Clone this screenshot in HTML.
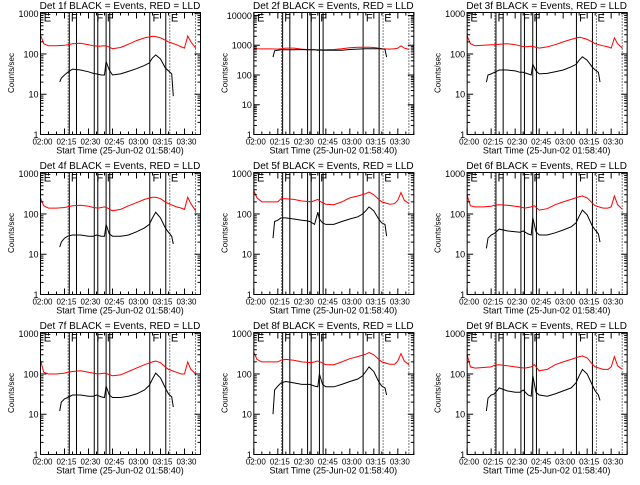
<!DOCTYPE html>
<html><head><meta charset="utf-8">
<style>
html,body{margin:0;padding:0;background:#fff;}
svg text{font-family:"Liberation Sans",sans-serif;fill:#000;}
</style></head>
<body>
<svg id="chart" xmlns="http://www.w3.org/2000/svg" width="640" height="480" viewBox="0 0 640 480"></svg>
<script>
const redTimes = [0,2,5,10,15,17,20,25,30,33,36,40,42,45,50,55,60,65,70,72,75,78,80,85,88,90,92,94,97];
const blackTimes = [12,13,15,17,20,25,30,33,35,38,40,41,43,45,50,55,60,65,68,70,72,75,78,80,82,83];
const detNames = ["1f","2f","3f","4f","5f","6f","7f","8f","9f"];
const yMaxLog = [3.03,4.1,3.03,3.03,3.03,3.03,3.03,3.03,3.03];
const red1 = [300,180,160,160,165,170,180,185,170,160,155,160,155,135,145,175,215,250,275,270,250,220,200,170,150,140,280,200,140];
const black1 = [20,25,30,35,42,40,36,33,32,30,30,65,40,30,32,37,43,52,60,80,95,75,45,38,32,9];
const red2 = [780,760,750,750,740,760,800,800,740,720,700,700,700,700,720,760,820,850,850,850,840,800,760,740,760,800,950,800,720];
const black2 = [400,650,680,700,700,700,720,700,700,700,680,690,680,680,680,680,720,740,750,760,760,760,760,750,730,400];
const red3 = [280,180,160,165,170,170,175,180,170,160,150,155,150,140,150,170,200,230,260,250,230,200,180,160,150,140,250,180,140];
const black3 = [20,30,32,35,40,40,38,35,35,32,30,55,38,32,33,36,40,48,55,70,85,70,48,40,35,20];
const red4 = [250,160,140,140,145,150,160,165,155,145,140,150,140,120,130,160,190,230,260,260,240,200,180,150,140,130,260,180,120];
const black4 = [15,20,25,28,30,30,28,28,30,28,28,55,32,28,28,30,36,45,55,80,110,80,45,35,28,18];
const red5 = [380,250,200,200,200,240,240,230,210,205,200,230,200,175,170,200,250,280,320,350,300,230,200,175,180,220,340,220,180];
const black5 = [25,65,70,80,80,75,70,68,65,55,110,75,60,55,55,65,75,85,100,120,150,120,75,60,55,28];
const red6 = [290,160,150,150,155,165,170,165,155,150,140,150,160,125,135,170,200,230,270,280,250,190,160,140,140,150,280,170,130];
const black6 = [14,25,30,33,42,38,36,35,38,32,30,80,36,30,30,34,40,48,60,88,125,95,52,40,32,20];
const red7 = [220,110,100,100,105,110,115,120,110,105,100,105,100,90,95,115,140,170,200,210,190,150,130,110,100,100,200,130,100];
const black7 = [12,20,24,26,30,30,28,28,30,27,26,50,30,26,26,28,32,40,52,75,105,80,45,32,27,15];
const red8 = [350,230,200,200,200,220,230,220,200,195,190,210,195,170,170,200,240,270,310,340,300,230,200,175,175,210,320,210,170];
const black8 = [10,40,50,60,65,60,55,55,55,50,48,100,55,48,48,55,65,75,90,115,150,115,65,50,45,30];
const red9 = [300,150,140,145,150,165,170,160,150,145,140,150,170,120,130,170,200,230,270,280,250,180,150,130,130,150,270,160,130];
const black9 = [12,25,30,32,45,38,35,35,40,30,28,90,35,30,28,32,38,45,60,90,130,100,55,38,30,22];
const redSeries = [red1,red2,red3,red4,red5,red6,red7,red8,red9];
const blackSeries = [black1,black2,black3,black4,black5,black6,black7,black8,black9];
const solidEvents = [18,22.5,33.6,35.8,41,43.3,68.3,78.3];
const dottedEvents = [17.3,80.8,96.9];
const eventLabels = ["E","F","F","F","F","E"];
const eventLabelTimes = [2,19,35,41.5,70,81.5];
const xTickLabels = ["02:00","02:15","02:30","02:45","03:00","03:15","03:30"];
const xTickMins = [0,15,30,45,60,75,90];

const svg = document.getElementById('chart');
const NS = 'http://www.w3.org/2000/svg';
function mk(tag, attrs, parent){
  const e = document.createElementNS(NS, tag);
  for (const k in attrs) e.setAttribute(k, attrs[k]);
  parent.appendChild(e);
  return e;
}
for (let p = 0; p < 9; p++) {
  const col = p % 3, row = Math.floor(p / 3);
  const ox = col * 213.33, oy = row * 160;
  const x0 = ox + 40.5, x1 = ox + 200.5, y0 = oy + 12.5, y1 = oy + 134.5;
  const xs = m => x0 + m * (x1 - x0) / 100;
  const ys = v => y1 - Math.log10(v) / yMaxLog[p] * (y1 - y0);
  const g = mk('g', {}, svg);
  
  

  const t = mk('text', {x: ox + 120, y: oy + 9, 'font-size': 10, 'text-anchor': 'middle'}, g);
  t.textContent = 'Det ' + detNames[p] + ' BLACK = Events, RED = LLD';
  
  

  solidEvents.forEach(m => {
    const l = mk('line', {x1: xs(m), x2: xs(m), y1: y0, y2: y1, stroke: '#000', 'stroke-width': 1}, g);
    
    
  });
  dottedEvents.forEach(m => {
    const l = mk('line', {x1: xs(m), x2: xs(m), y1: y0, y2: y1, stroke: '#000', 'stroke-width': 1, 'stroke-dasharray': '1,2'}, g);
    
    
  });
  eventLabels.forEach((s, i) => {
    const tx = mk('text', {x: xs(eventLabelTimes[i]), y: y0 + 9, 'font-size': 11}, g);
    tx.textContent = s;
    
    
  });

  const rd = redSeries[p].map((v, i) => xs(redTimes[i]).toFixed(1) + ',' + ys(v).toFixed(1)).join(' ');
  const rl = mk('polyline', {points: rd, fill: 'none', stroke: '#ff0000', 'stroke-width': 1}, g);
  
  
  const bd = blackSeries[p].map((v, i) => xs(blackTimes[i]).toFixed(1) + ',' + ys(v).toFixed(1)).join(' ');
  const bl = mk('polyline', {points: bd, fill: 'none', stroke: '#000', 'stroke-width': 1}, g);
  
  

  const fr = mk('rect', {x: x0, y: y0, width: x1 - x0, height: y1 - y0, fill: 'none', stroke: '#000', 'stroke-width': 1}, g);
  
  

  const decs = Math.floor(yMaxLog[p]);
  for (let d = 0; d <= decs; d++) {
    for (let k = 1; k <= 9; k++) {
      const v = k * Math.pow(10, d);
      if (Math.log10(v) > yMaxLog[p]) break;
      const yy = ys(v), len = k === 1 ? 6 : 3;
      mk('line', {x1: x0, x2: x0 + len, y1: yy, y2: yy, stroke: '#000'}, g);
      mk('line', {x1: x1, x2: x1 - len, y1: yy, y2: yy, stroke: '#000'}, g);
    }
    const lb = mk('text', {x: x0 - 2, y: ys(Math.pow(10, d)) + 3.5, 'font-size': 9, 'text-anchor': 'end'}, g);
    lb.textContent = String(Math.pow(10, d));
    
    
  }
  for (let m = 0; m <= 100; m += 5) {
    const len = m % 15 === 0 ? 6 : 3;
    mk('line', {x1: xs(m), x2: xs(m), y1: y1, y2: y1 - len, stroke: '#000'}, g);
    mk('line', {x1: xs(m), x2: xs(m), y1: y0, y2: y0 + len, stroke: '#000'}, g);
  }
  xTickLabels.forEach((s, i) => {
    const lb = mk('text', {x: xs(xTickMins[i]) + 2, y: y1 + 10, 'font-size': 8, 'text-anchor': 'middle'}, g);
    lb.textContent = s;
    
    
  });
  const xt = mk('text', {x: ox + 120, y: y1 + 19, 'font-size': 9, 'text-anchor': 'middle'}, g);
  xt.textContent = 'Start Time (25-Jun-02 01:58:40)';
  
  
  const yt = mk('text', {x: 0, y: 0, 'font-size': 8, 'text-anchor': 'middle', transform: 'translate(' + (ox + 14) + ',' + (oy + 73) + ') rotate(-90)'}, g);
  yt.textContent = 'Counts/sec';
  
  
}
</script>
</body></html>
